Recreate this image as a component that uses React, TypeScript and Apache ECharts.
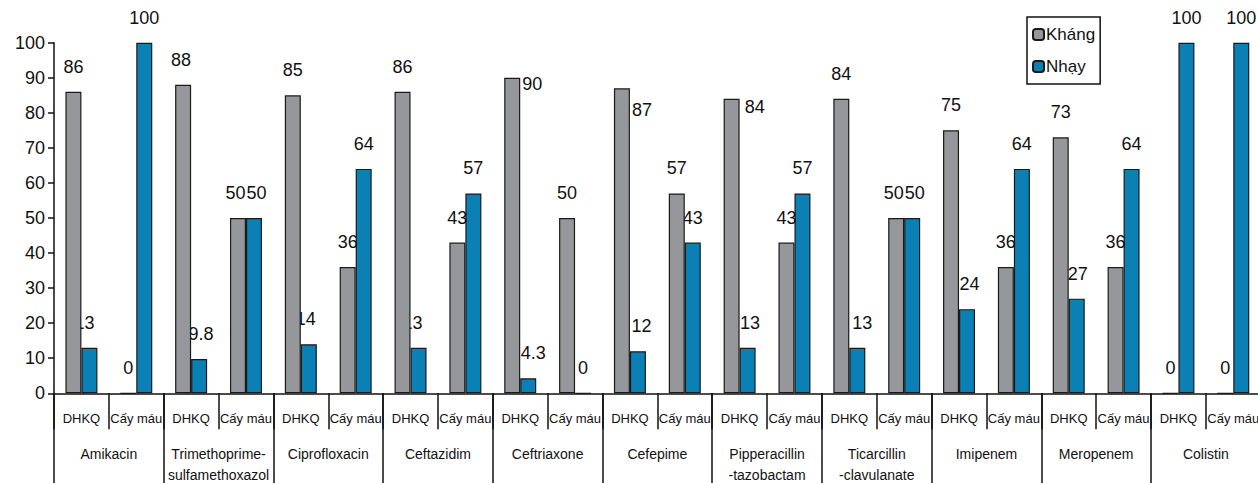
import React, { useEffect, useRef } from "react";
import * as echarts from "echarts";

const groups = [
  "Amikacin",
  "Trimethoprime-\nsulfamethoxazol",
  "Ciprofloxacin",
  "Ceftazidim",
  "Ceftriaxone",
  "Cefepime",
  "Pipperacillin\n-tazobactam",
  "Ticarcillin\n-clavulanate",
  "Imipenem",
  "Meropenem",
  "Colistin",
];
const subgroups = ["DHKQ", "Cấy máu"];
const seriesNames = ["Kháng", "Nhạy"];
const khang = [86, 0, 88, 50, 85, 36, 86, 43, 90, 50, 87, 57, 84, 43, 84, 50, 75, 36, 73, 36, 0, 0];
const nhay = [13, 100, 9.8, 50, 14, 64, 13, 57, 4.3, 0, 12, 43, 13, 57, 13, 50, 24, 64, 27, 64, 100, 100];
const yTicks = { min: 0, max: 100, interval: 10 };

// label placement tweaks (styles only)
const khangLabelPos: Record<number, number[]> = { 8: [18, 6], 10: [18, 22], 12: [21, 8] };
const khangLabelDx: Record<number, number> = { 3: -2.5, 15: -2.5, 2: -2 };
const nhayLabelDx: Record<number, number> = {
  0: -5, 2: 2, 3: 2.5, 4: -3, 6: -6, 8: 5, 10: 3.5, 12: 2.5, 14: 5, 15: 2.5, 16: 2.5, 18: 1,
};

const FONT = "'Liberation Sans', Arial, sans-serif";

export default function App() {
  const ref = useRef<HTMLDivElement>(null);
  useEffect(() => {
    document.body.style.margin = "0";
    if (!ref.current) return;
    const chart = echarts.init(ref.current, undefined, { renderer: "svg" });
    const cats: string[] = [];
    groups.forEach(() => subgroups.forEach((s) => cats.push(s)));

    const khangData = khang.map((v, i) => {
      if (khangLabelPos[i])
        return { value: v, label: { position: khangLabelPos[i], align: "left", verticalAlign: "middle" } };
      if (khangLabelDx[i] !== undefined) return { value: v, label: { offset: [khangLabelDx[i], 0] } };
      return v;
    });
    const nhayData = nhay.map((v, i) =>
      nhayLabelDx[i] !== undefined ? { value: v, label: { offset: [nhayLabelDx[i], 0] } } : v
    );

    const labelStyle = {
      show: true,
      position: "top",
      distance: 16,
      color: "#111",
      fontSize: 18,
      fontFamily: FONT,
    };

    chart.setOption({
      animation: false,
      backgroundColor: "#fff",
      grid: {
        left: 54,
        top: 42.7,
        width: 1206.7,
        height: 350.6,
        containLabel: false,
        outerBoundsMode: "none",
      },
      legend: {
        orient: "vertical",
        left: 1027,
        top: 17,
        data: seriesNames,
        itemWidth: 11,
        itemHeight: 11,
        itemGap: 15,
        padding: [9, 5, 9, 5],
        borderColor: "#111",
        borderWidth: 1.5,
        textStyle: { fontSize: 17, fontFamily: FONT, color: "#111", padding: [0, 0, 0, -3] },
      },
      xAxis: [
        {
          type: "category",
          position: "bottom",
          data: cats,
          axisLine: { show: true, lineStyle: { color: "#111", width: 1.5 } },
          axisTick: { show: true, length: 36, interval: 0, lineStyle: { color: "#111", width: 1.5 } },
          axisLabel: { interval: 0, margin: 19, fontSize: 13, fontFamily: FONT, color: "#111", hideOverlap: false },
        },
        {
          type: "category",
          position: "bottom",
          data: groups,
          axisLine: { show: false },
          axisTick: { show: true, length: 100, interval: 0, lineStyle: { color: "#111", width: 1.5 } },
          axisLabel: {
            interval: 0,
            margin: 50,
            fontSize: 14,
            lineHeight: 21,
            fontFamily: FONT,
            color: "#111",
            hideOverlap: false,
          },
        },
      ],
      yAxis: {
        type: "value",
        min: yTicks.min,
        max: yTicks.max,
        interval: yTicks.interval,
        axisLine: { show: true, lineStyle: { color: "#111", width: 1.5 } },
        axisTick: { show: true, length: 6, lineStyle: { color: "#111", width: 1.5 } },
        splitLine: { show: false },
        axisLabel: { fontSize: 18, fontFamily: FONT, color: "#111", margin: 9 },
      },
      series: [
        {
          name: seriesNames[0],
          type: "bar",
          xAxisIndex: 0,
          z: 3,
          barWidth: 16,
          barGap: "0%",
          itemStyle: { color: "#96979a", borderColor: "#1a1a1a", borderWidth: 1.2 },
          label: labelStyle,
          data: khangData,
        },
        {
          name: seriesNames[1],
          type: "bar",
          xAxisIndex: 0,
          z: 2,
          barWidth: 16,
          barGap: "0%",
          itemStyle: { color: "#0a80b5", borderColor: "#1a1a1a", borderWidth: 1.2 },
          label: labelStyle,
          data: nhayData,
        },
      ],
    });
    return () => chart.dispose();
  }, []);
  return <div ref={ref} style={{ width: 1258, height: 483 }} />;
}
